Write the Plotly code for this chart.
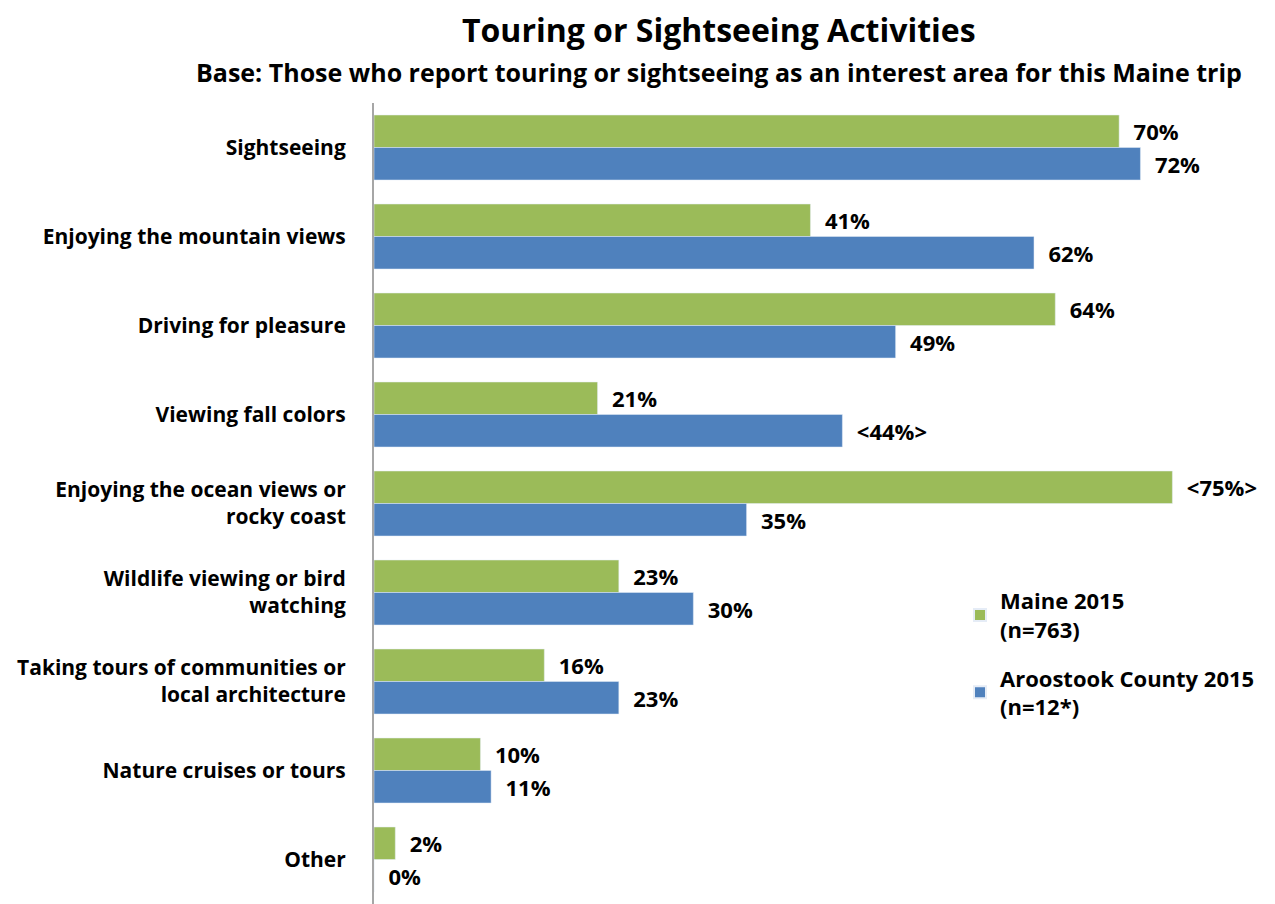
import plotly.graph_objects as go

categories = [
    "Sightseeing",
    "Enjoying the mountain views",
    "Driving for pleasure",
    "Viewing fall colors",
    "Enjoying the ocean views or<br>rocky coast",
    "Wildlife viewing or bird<br>watching",
    "Taking tours of communities or<br>local architecture",
    "Nature cruises or tours",
    "Other",
]
maine = [70, 41, 64, 21, 75, 23, 16, 10, 2]
aroostook = [72, 62, 49, 44, 35, 30, 23, 11, 0]
maine_labels = ["70%", "41%", "64%", "21%", "<75%>", "23%", "16%", "10%", "2%"]
aroostook_labels = ["72%", "62%", "49%", "<44%>", "35%", "30%", "23%", "11%", "0%"]

FONT = "Open Sans"
OFF = 8  # page body margin
W, H = 1275 - OFF, 904 - OFF
L, T = 374 - OFF, 103 - OFF
pw = W - L
ph = H - T


def px(x):
    return (x - OFF - L) / pw


def py(y):
    return (H - (y - OFF)) / ph


fig = go.Figure()
fig.add_trace(go.Bar(
    y=categories, x=maine, orientation="h", name="Maine 2015<br>(n=763)",
    legendgroup="maine",
    marker_color="#9BBB59", text=["  " + t for t in maine_labels],
    textposition="outside", cliponaxis=False,
    textfont=dict(size=22, color="black", family=FONT, weight="bold"),
))
fig.add_trace(go.Bar(
    y=categories, x=aroostook, orientation="h", name="Aroostook County 2015<br>(n=12*)",
    legendgroup="aroostook",
    marker_color="#4F81BD", text=["  " + t for t in aroostook_labels],
    textposition="outside", cliponaxis=False,
    textfont=dict(size=22, color="black", family=FONT, weight="bold"),
))

fig.update_layout(
    width=W, height=H,
    paper_bgcolor="white", plot_bgcolor="white",
    barmode="group", bargap=0.27, bargroupgap=0,
    margin=dict(l=L, r=0, t=T, b=0, autoexpand=False),
    font=dict(family=FONT, size=22, color="black"),
    showlegend=True,
    legend=dict(
        x=px(960), y=py(580), xanchor="left", yanchor="top",
        font=dict(size=22, family=FONT, weight="bold"),
        bgcolor="rgba(0,0,0,0)", traceorder="grouped",
        itemsizing="constant", tracegroupgap=17,
    ),
    annotations=[
        dict(text="<b>Touring or Sightseeing Activities</b>", showarrow=False,
             xref="paper", yref="paper", x=px(719), y=py(29),
             xanchor="center", yanchor="middle", font=dict(size=32, family=FONT)),
        dict(text="<b>Base: Those who report touring or sightseeing as an interest area for this Maine trip</b>",
             showarrow=False, xref="paper", yref="paper", x=px(719), y=py(72),
             xanchor="center", yanchor="middle", font=dict(size=25, family=FONT)),
    ],
)

fig.update_xaxes(range=[0, pw / 10.645], visible=False, showgrid=False, zeroline=False)
fig.update_yaxes(
    autorange="reversed", showline=True, linecolor="#A6A6A6", linewidth=2,
    showgrid=False, ticks="", ticklabelstandoff=22,
    tickfont=dict(size=21, family=FONT, weight="bold"),
)

fig.write_html("out.html")
